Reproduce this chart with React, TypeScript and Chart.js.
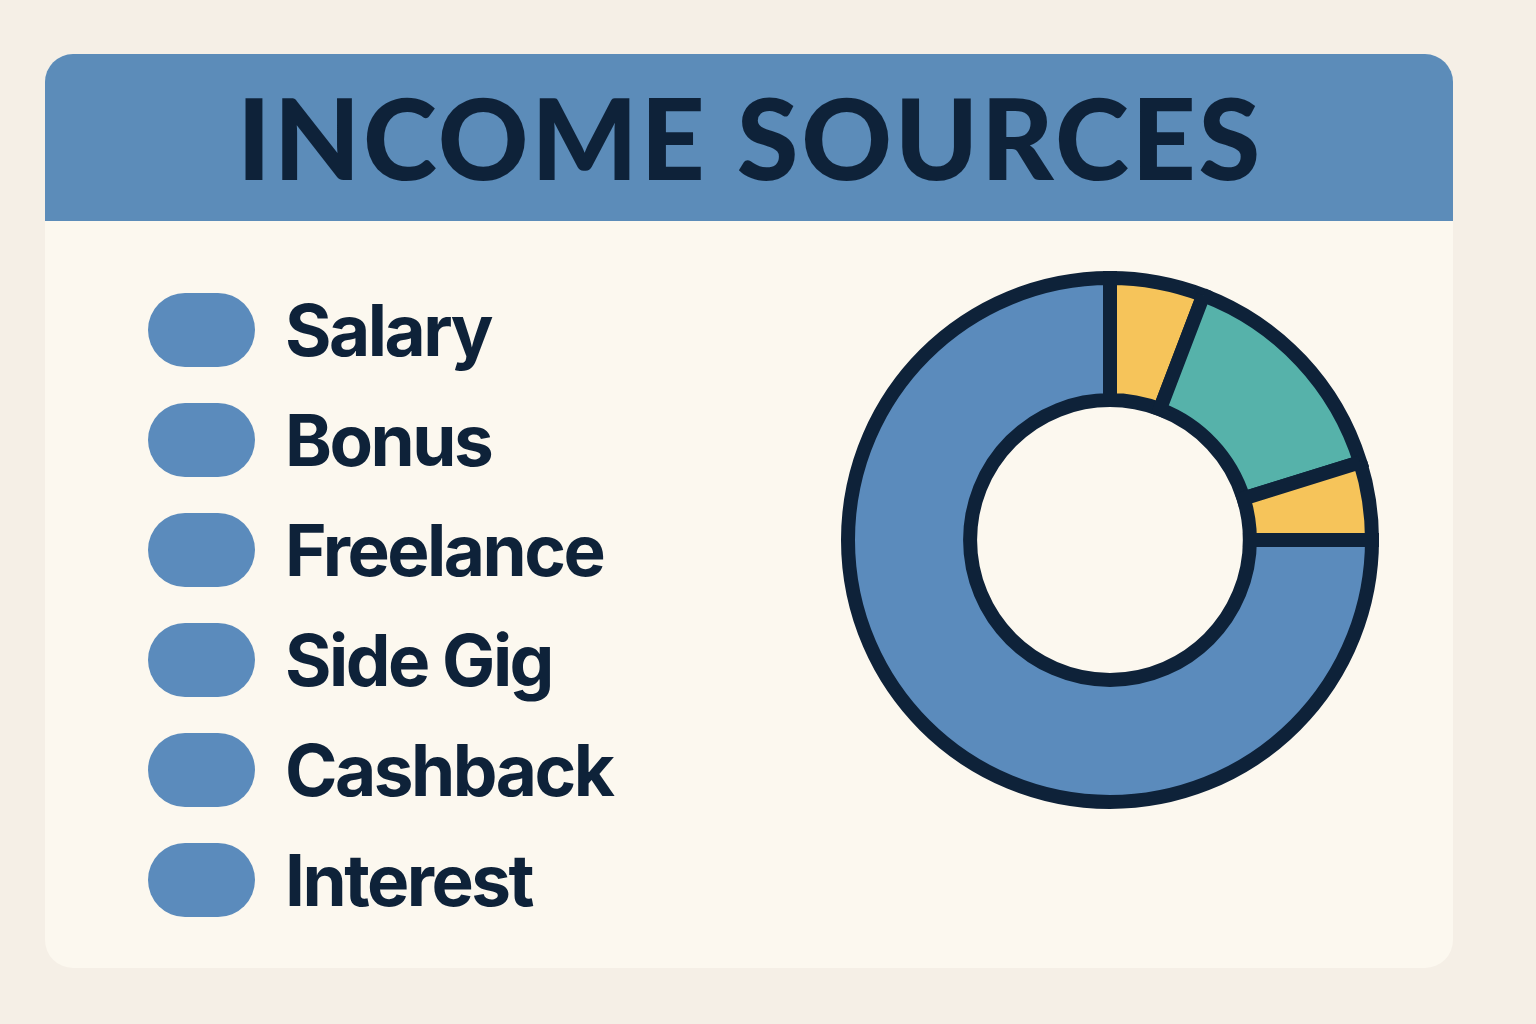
import React, { useEffect, useRef } from "react";
import { Chart, registerables } from "chart.js";

Chart.register(...registerables);

const TITLE = "INCOME SOURCES";
const categories = ["Salary", "Bonus", "Freelance", "Side Gig", "Cashback", "Interest"];
const shares = [75, 5.8, 14.4, 4.8, 0, 0];
const sliceColors = ["#5B8BBC", "#F6C45A", "#56B2AA", "#F6C45A", "#5B8BBC", "#5B8BBC"];
const legendColor = "#5B8BBC";
const ink = "#0E2239";

export default function App() {
  const canvasRef = useRef<HTMLCanvasElement | null>(null);

  useEffect(() => {
    const canvas = canvasRef.current;
    if (!canvas) return;
    const chart = new Chart(canvas, {
      type: "doughnut",
      data: {
        labels: categories,
        datasets: [
          {
            data: shares,
            backgroundColor: sliceColors,
            borderColor: ink,
            borderWidth: 14,
            borderJoinStyle: "miter",
            hoverOffset: 0,
          },
        ],
      },
      options: {
        responsive: false,
        animation: false,
        rotation: 90,
        cutout: "53.4%",
        layout: { padding: 0 },
        plugins: {
          legend: { display: false },
          tooltip: { enabled: false },
          title: { display: false },
        },
      },
    });
    return () => chart.destroy();
  }, []);

  return (
    <div
      style={{
        position: "fixed",
        left: 0,
        top: 0,
        width: 1536,
        height: 1024,
        background: "#F5EFE6",
        overflow: "hidden",
      }}
    >
      <div
        style={{
          position: "absolute",
          left: 45,
          top: 54,
          width: 1408,
          height: 914,
          background: "#FCF8EF",
          borderRadius: 28,
          overflow: "hidden",
        }}
      >
        <div
          style={{
            position: "absolute",
            left: 0,
            top: 0,
            width: 1408,
            height: 167,
            background: "#5C8CB9",
            display: "flex",
            alignItems: "center",
            justifyContent: "center",
          }}
        >
          <span
            style={{
              fontFamily: "Lato, 'DejaVu Sans', sans-serif",
              fontWeight: 900,
              fontSize: 112,
              letterSpacing: 2.7,
              color: ink,
              lineHeight: 1,
              marginLeft: 2,
              marginTop: -2,
            }}
          >
            {TITLE}
          </span>
        </div>
        {categories.map((c, i) => (
          <div
            key={c}
            style={{
              position: "absolute",
              left: 103,
              top: 239 + i * 110,
              height: 74,
              display: "flex",
              alignItems: "center",
            }}
          >
            <div
              style={{
                width: 107,
                height: 74,
                borderRadius: 37,
                background: legendColor,
              }}
            />
            <span
              style={{
                marginLeft: 30,
                fontFamily: "Inter, 'Open Sans', sans-serif",
                fontWeight: 700,
                fontSize: 71,
                color: ink,
                lineHeight: 1,
                letterSpacing: -2.5,
              }}
            >
              {c}
            </span>
          </div>
        ))}
      </div>
      <canvas
        ref={canvasRef}
        width={538}
        height={538}
        style={{ position: "absolute", left: 841, top: 271, width: 538, height: 538 }}
      />
    </div>
  );
}
